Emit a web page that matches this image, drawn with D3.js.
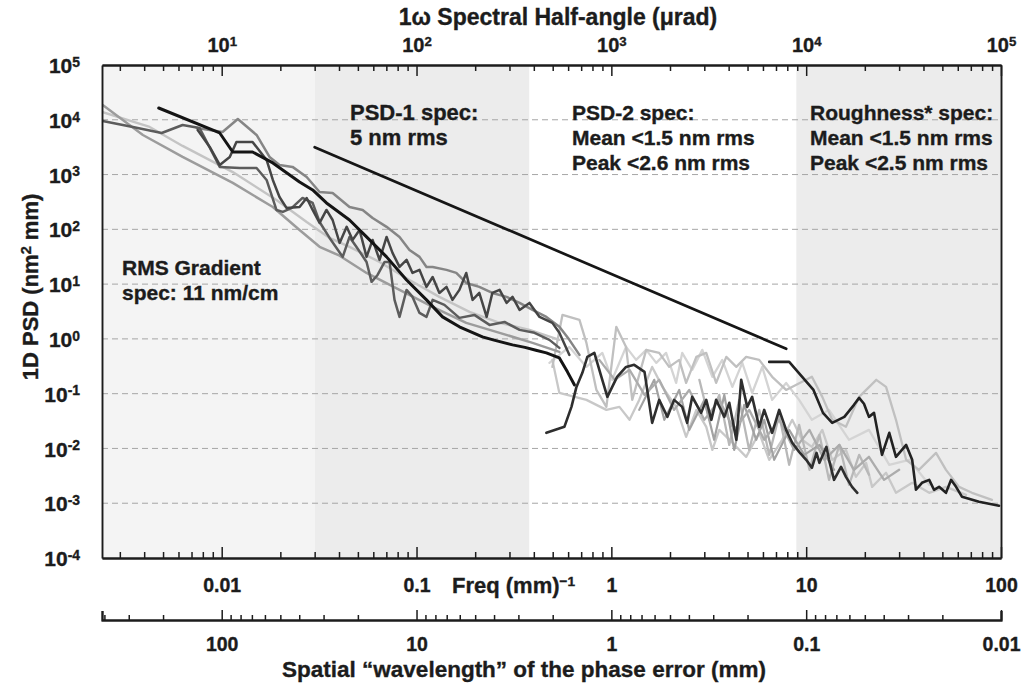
<!DOCTYPE html>
<html><head><meta charset="utf-8">
<script src="https://cdn.jsdelivr.net/npm/d3@7"></script>
<style>
body{margin:0;background:#fff;}
svg text{font-family:"Liberation Sans",Arial,Helvetica,sans-serif;font-weight:bold;fill:#1c1c1c;stroke:#1c1c1c;stroke-width:0.35px;}
</style></head><body>
<svg id="chart" width="1024" height="686"></svg>
<script>
// ---------- tick labels / axis values ----------
const freqTicks = [0.01, 0.1, 1, 10, 100];
const wavelengthTicks = [100, 10, 1, 0.1, 0.01];
const angleTicks = [1e1, 1e2, 1e3, 1e4, 1e5];
const psdTicks = [1e5, 1e4, 1e3, 1e2, 1e1, 1e0, 1e-1, 1e-2, 1e-3, 1e-4];
const gridTicks = [1e4, 1e3, 1e2, 1e1, 1e0, 1e-1, 1e-2, 1e-3];
const freqDomain = [0.00243, 100];
const psdDomain = [1e-4, 1e5];
// spec band edges (freq, mm^-1)
const bandEdges = [0.00243, 0.03, 0.38, 8.9, 100];
const bandFills = ["#f4f4f4", "#ececec", "#ffffff", "#ececec"];

// ---------- series [freq, PSD] ----------
const specPSD1 = [[0.030, 3160], [7.9, 0.66]];

const seriesBlack = [[0.00475,16400],[0.00977,5740],[0.0114,2580],[0.0144,2580],[0.0183,1630],[0.0231,904],
 [0.0251,733],[0.0293,524],[0.0345,303],[0.0453,148],[0.0554,72.7],[0.0702,31.4],[0.0889,11.9],[0.1125,5.15],
 [0.136,2.52],[0.166,1.66],[0.218,1.09],[0.25,0.95],[0.311,0.778],[0.36,0.70],[0.41,0.62],[0.464,0.555],
 [0.541,0.45],[0.595,0.25],[0.646,0.145]];

const seriesGrayBump = [[0.00745,7080],[0.0101,5990],[0.0121,10300],[0.0151,5280],[0.0176,2100],[0.0198,1500],
 [0.0231,1380],[0.0273,904],[0.0318,481],[0.0371,461],[0.0453,256],[0.0529,226],[0.0595,161],[0.0702,111],
 [0.0818,72.7],[0.092,42.1],[0.1036,31.4],[0.1125,20.6],[0.121,20.6],[0.1425,18.2],[0.160,16.0],[0.180,10.5],
 [0.21,8.89],[0.245,6.9],[0.29,5.84],[0.338,4.54],[0.394,3.38],[0.464,2.52],[0.541,1.66],[0.609,0.96],[0.686,0.51]];

const seriesDarkA = [[0.00753,6520],[0.00868,3190],[0.00977,1500],[0.011,2100],[0.0119,3940],[0.0144,3940],
 [0.017,1850],[0.0183,797],[0.0198,390],[0.0215,246],[0.0251,256],[0.0273,374],[0.0293,226],[0.0318,131],
 [0.0345,226],[0.0371,148],[0.0403,56.5],[0.0438,111],[0.047,64.1],[0.051,97.5],[0.0554,31.4],[0.0595,64.1],
 [0.0646,27.7],[0.0702,72.7],[0.0753,37.1],[0.0818,20.6],[0.0889,27.7],[0.0954,16.0],[0.1036,18.2],[0.1125,8.89],
 [0.121,13.5],[0.131,6.9],[0.1425,8.89],[0.153,5.15],[0.166,7.84],[0.180,16.0],[0.194,5.15],[0.21,6.9],
 [0.229,2.52],[0.245,6.9],[0.267,7.84],[0.29,4.54],[0.311,5.84],[0.338,3.38],[0.38,4.54],[0.428,2.52],
 [0.498,1.96],[0.541,1.29],[0.609,0.51]];

const seriesDarkB = [[0.00245,9510],[0.0035,7390],[0.00492,5740],[0.0063,8040],[0.0077,7080],[0.00977,1380],
 [0.0124,1320],[0.0151,1320],[0.017,797],[0.0191,226],[0.0206,208],[0.0229,246],[0.026,374],[0.0293,303],
 [0.0318,136],[0.0358,69.7],[0.0418,31.4],[0.0453,72.7],[0.0492,47.7],[0.0554,25.4],[0.0588,11.0],[0.0631,14.7],
 [0.0686,25.4],[0.0727,25.4],[0.0771,5.15],[0.0818,2.52],[0.0889,7.84],[0.0954,5.84],[0.1036,2.98],[0.1125,2.52],
 [0.121,5.15],[0.139,4.17],[0.166,2.42],[0.198,2.74],[0.237,1.8],[0.283,2.04],[0.338,1.46],[0.403,1.29],
 [0.481,0.96],[0.541,0.685]];

const seriesGradient = [[0.00245,18600],[0.00394,5280],[0.0063,2100],[0.0114,703],[0.0183,256],[0.0251,97.5],
 [0.0318,48],[0.0403,33],[0.0554,16.0],[0.0818,7.84],[0.121,3.84],[0.180,1.96],[0.267,1.29],[0.394,0.845],[0.541,0.58]];

const seriesLightLeft = [[0.00243,13900],[0.00427,7390],[0.0063,3330],[0.0114,1110],[0.0191,344],[0.0273,136],
 [0.0358,69.7],[0.0453,47.7],[0.0646,25.4],[0.092,11.9],[0.131,5.84],[0.187,3.11],[0.267,1.96],[0.38,1.46],[0.541,0.96]];

const seriesLightPeak = [[0.498,0.308],[0.561,2.74],[0.686,2.22],[0.745,0.845],[0.838,0.117],[0.943,0.0574],
 [1.06,1.66],[1.19,0.714],[1.28,0.077],[1.51,0.63],[1.76,0.555],[1.98,0.308],[2.23,0.414],[2.42,0.157],
 [2.73,0.47],[3.07,0.555],[3.45,0.157],[3.89,0.47],[4.38,0.308],[4.92,0.47],[5.74,0.414],[6.69,0.203],
 [7.89,0.117],[10.7,0.203],[12.1,0.0874],[13.6,0.0333],[16.0,0.0248],[18.7,0.0874],[22.9,0.179],[25.7,0.133],
 [28.9,0.0333],[32.6,0.0062],[37.9,0.00407],[46.4,0.0083],[52.2,0.00407],[60.9,0.00199],[71.0,0.00155],[89.9,0.00115]];

const seriesLightLow = [[0.498,0.414],[0.541,0.103],[0.745,0.077],[0.943,0.0506],[1.10,0.0574],[1.24,0.0333],
 [1.39,0.077],[1.62,0.308],[1.83,0.133],[2.15,0.0574],[2.42,0.0163],[2.73,0.0506],[3.07,0.0248],[3.30,0.0094],
 [3.58,0.0218],[4.18,0.0127],[4.92,0.00703],[5.74,0.0193],[6.46,0.0062],[7.53,0.0144],[8.48,0.0333],[9.53,0.0144],
 [10.7,0.0107],[12.1,0.0218],[13.6,0.0062],[16.0,0.0094],[18.0,0.00303],[20.3,0.00546],[21.8,0.00199],
 [25.7,0.00359],[28.9,0.00155],[35.0,0.00236],[42.8,0.00155],[52.2,0.00199],[66.2,0.00142]];

const seriesLightMid = [[0.481,0.365],[0.609,0.714],[0.745,0.308],[0.899,0.555],[1.01,0.179],[1.19,0.714],
 [1.34,0.414],[1.51,0.63],[1.70,0.365],[1.91,0.555],[2.15,0.157],[2.31,0.555],[2.60,0.272],[2.93,0.63],
 [3.30,0.203],[3.71,0.414],[4.18,0.133],[4.70,0.365],[5.28,0.103],[5.95,0.308],[6.69,0.077],[7.89,0.157],
 [9.2,0.077],[10.7,0.0333],[13.1,0.0506],[16.6,0.0144],[21.0,0.0218],[26.7,0.00502],[33.8,0.0062],[42.8,0.00217]];

const seriesMidRight = [[0.868,0.414],[1.04,0.179],[1.24,0.272],[1.48,0.095],[1.76,0.179],[2.10,0.0506],
 [2.51,0.117],[3.0,0.0333],[3.58,0.077],[4.27,0.0218],[5.1,0.0506],[6.09,0.0144],[7.27,0.0333],[8.68,0.0094],
 [10.4,0.0218],[12.4,0.0062],[14.8,0.0116],[17.6,0.00407],[21.0,0.00703],[25.1,0.00267],[30.0,0.00407]];

const seriesCloudA = [[2.83,0.179],[3.18,0.0333],[3.58,0.095],[4.03,0.0116],[4.53,0.077],[5.1,0.0094],
 [5.74,0.0506],[6.46,0.00764],[7.27,0.041],[8.18,0.00502],[9.2,0.027],[10.4,0.00407],[11.7,0.0177],
 [13.1,0.00267],[14.8,0.0116],[16.6,0.00217],[18.7,0.00764],[21.0,0.0033]];

const seriesCloudB = [[1.39,0.0506],[1.66,0.179],[1.87,0.0333],[2.23,0.117],[2.51,0.0218],[3.0,0.077],
 [3.37,0.0144],[3.80,0.095],[4.27,0.0094],[4.81,0.0625],[5.54,0.0144],[6.09,0.0333],[6.85,0.0062],
 [8.18,0.0218],[9.77,0.00764],[11.7,0.0116],[13.9,0.00407]];

const seriesDarkJag = [[0.464,0.0193],[0.574,0.0248],[0.624,0.0574],[0.662,0.133],[0.71,0.24],[0.753,0.47],
 [0.818,0.555],[0.889,0.203],[0.954,0.0874],[1.07,0.203],[1.19,0.308],[1.31,0.336],[1.48,0.25],[1.62,0.0293],
 [1.76,0.077],[1.94,0.0377],[2.10,0.077],[2.31,0.0574],[2.45,0.0293],[2.60,0.0874],[2.89,0.0446],[3.07,0.077],
 [3.26,0.0333],[3.45,0.077],[3.80,0.0377],[4.03,0.068],[4.38,0.0144],[4.64,0.179],[4.98,0.0574],[5.28,0.0874],
 [5.74,0.0248],[6.09,0.0506],[6.69,0.0193],[7.27,0.0506],[7.89,0.0218],[8.48,0.0127],[9.2,0.00867],[10.0,0.0062],
 [10.7,0.00443],[11.3,0.0083],[11.7,0.00546],[12.7,0.0107],[13.1,0.0062],[13.9,0.00267],[15.1,0.00461],
 [16.0,0.00303],[17.2,0.00199],[18.3,0.00155]];

const seriesDarkRight = [[6.46,0.38],[8.18,0.38],[10.9,0.117],[12.2,0.0446],[13.6,0.0293],[15.7,0.0377],
 [17.6,0.0625],[18.7,0.0838],[19.8,0.0654],[21.0,0.0377],[22.3,0.0446],[24.5,0.00764],[26.7,0.0193],[28.9,0.00703],
 [32.6,0.0116],[35.0,0.0062],[36.6,0.00176],[39.3,0.00236],[42.8,0.00267],[45.3,0.00176],[48.1,0.00199],
 [52.2,0.00155],[55.4,0.00267],[58.8,0.00199],[63.1,0.00131],[77.1,0.00106],[97.7,0.0009]];

// draw order (back to front) with stroke styles
const seriesList = [
  {data: seriesLightMid,   color: "#d4d4d4", w: 2.3},
  {data: seriesLightLow,   color: "#c8c8c8", w: 2.3},
  {data: seriesCloudA,     color: "#b8b8b8", w: 2.3},
  {data: seriesLightPeak,  color: "#c0c0c0", w: 2.3},
  {data: seriesCloudB,     color: "#a2a2a2", w: 2.2},
  {data: seriesMidRight,   color: "#acacac", w: 2.3},
  {data: seriesLightLeft,  color: "#c4c4c4", w: 2.4},
  {data: seriesGradient,   color: "#9c9c9c", w: 2.5},
  {data: seriesGrayBump,   color: "#858585", w: 2.5},
  {data: seriesDarkB,      color: "#5c5c5c", w: 2.5},
  {data: seriesDarkA,      color: "#454545", w: 2.5},
  {data: seriesBlack,      color: "#141414", w: 3},
  {data: seriesDarkJag,    color: "#2e2e2e", w: 2.6},
  {data: seriesDarkRight,  color: "#222222", w: 2.6},
  {data: specPSD1,         color: "#161616", w: 2.7}
];

// ---------- layout ----------
const L = 102, R = 1001, T = 65, B = 558, WAVE_Y = 620;
const svg = d3.select("#chart");
svg.append("rect").attr("width",1024).attr("height",686).attr("fill","#ffffff");

const x = d3.scaleLog().domain(freqDomain).range([L, R]);
const y = d3.scaleLog().domain(psdDomain).range([B, T]);
const xTop = d3.scaleLog().domain(freqDomain.map(f => f * 1000)).range([L, R]);
const xWave = d3.scaleLog().domain(freqDomain.map(f => 1 / f)).range([L, R]);

function minorTicks(scale) {
  const [a, b] = scale.domain().slice().sort((p, q) => p - q);
  const out = [];
  for (let e = Math.floor(Math.log10(a)); e <= Math.ceil(Math.log10(b)); e++) {
    for (let m = 2; m <= 9; m++) {
      const v = +(m * Math.pow(10, e)).toPrecision(3);
      if (v >= a && v <= b) out.push(v);
    }
  }
  return out;
}

// bands
svg.append("g").selectAll("rect").data(bandFills).join("rect")
  .attr("x", (d, i) => x(bandEdges[i]))
  .attr("width", (d, i) => x(bandEdges[i + 1]) - x(bandEdges[i]))
  .attr("y", T).attr("height", B - T).attr("fill", d => d);

// grid
svg.append("g").selectAll("line").data(gridTicks).join("line")
  .attr("x1", L).attr("x2", R).attr("y1", d => y(d)).attr("y2", d => y(d))
  .attr("stroke", "#a6a6a6").attr("stroke-width", 1).attr("stroke-dasharray", "6,4");

// series
const clip = svg.append("clipPath").attr("id", "plotclip");
clip.append("rect").attr("x", L).attr("y", T).attr("width", R - L).attr("height", B - T);
const line = d3.line().x(d => x(d[0])).y(d => y(d[1]));
svg.append("g").attr("clip-path", "url(#plotclip)").selectAll("path").data(seriesList).join("path")
  .attr("d", d => line(d.data)).attr("fill", "none")
  .attr("stroke", d => d.color).attr("stroke-width", d => d.w)
  .attr("stroke-linejoin", "round").attr("stroke-linecap", "round");

// ---------- axes ----------
function styleAxis(g, w) {
  g.selectAll(".domain").attr("stroke", "#1c1c1c").attr("stroke-width", w || 1.9);
  g.selectAll(".tick line").attr("stroke", "#1c1c1c").attr("stroke-width", 1.5);
  g.selectAll("text").attr("fill", "#1c1c1c");
}
function powLabel(sel) {
  sel.each(function(d) {
    const e = Math.round(Math.log10(d));
    const t = d3.select(this).text("10");
    t.append("tspan").attr("dy", "-0.45em").attr("font-size", "0.66em").text(e);
  });
}

// bottom freq axis
const gB1 = svg.append("g").attr("transform", `translate(0,${B})`)
  .call(d3.axisBottom(x).tickValues(minorTicks(x)).tickSize(-6).tickSizeOuter(0).tickFormat(""));
styleAxis(gB1);
const gB2 = svg.append("g").attr("transform", `translate(0,${B})`)
  .call(d3.axisBottom(x).tickValues(freqTicks).tickSize(-11).tickSizeOuter(0).tickPadding(20).tickFormat(d => String(d)));
styleAxis(gB2);
gB2.selectAll("text").attr("font-size", 19.5).attr("font-family", null);

// top angle axis
const gT1 = svg.append("g").attr("transform", `translate(0,${T})`)
  .call(d3.axisTop(xTop).tickValues(minorTicks(xTop)).tickSize(-6).tickSizeOuter(0).tickFormat(""));
styleAxis(gT1);
const gT2 = svg.append("g").attr("transform", `translate(0,${T})`)
  .call(d3.axisTop(xTop).tickValues(angleTicks).tickSize(-11).tickSizeOuter(0).tickPadding(13));
styleAxis(gT2);
gT2.selectAll("text").attr("font-size", 20).attr("font-family", null).call(powLabel);

// left / right psd axes
const gL = svg.append("g").attr("transform", `translate(${L},0)`)
  .call(d3.axisLeft(y).tickValues(psdTicks).tickSize(0).tickPadding(22));
styleAxis(gL);
gL.selectAll("text").attr("font-size", 21).attr("font-family", null).attr("dy", "0.36em").call(powLabel);
const gR = svg.append("g").attr("transform", `translate(${R},0)`)
  .call(d3.axisRight(y).tickValues([]).tickSizeOuter(0));
styleAxis(gR);

// wavelength axis
const gW1 = svg.append("g").attr("transform", `translate(0,${WAVE_Y})`)
  .call(d3.axisBottom(xWave).tickValues(minorTicks(xWave)).tickSize(-5).tickSizeOuter(-9).tickFormat(""));
styleAxis(gW1);
const gW2 = svg.append("g").attr("transform", `translate(0,${WAVE_Y})`)
  .call(d3.axisBottom(xWave).tickValues(wavelengthTicks).tickSize(-10).tickSizeOuter(-9).tickPadding(17).tickFormat(d => String(d)));
styleAxis(gW2);
gW2.selectAll("text").attr("font-size", 19.5).attr("font-family", null);

// ---------- titles and annotations ----------
function label(xp, yp, txt, size, anchor) {
  return svg.append("text").attr("x", xp).attr("y", yp).attr("font-size", size)
    .attr("text-anchor", anchor || "start").text(txt);
}
label(558, 25, "1\u03c9 Spectral Half-angle (\u03bcrad)", 23, "middle");

const yt = svg.append("text").attr("transform", "translate(38,287) rotate(-90)")
  .attr("text-anchor", "middle").attr("font-size", 22);
yt.append("tspan").text("1D PSD (nm");
yt.append("tspan").attr("dy", "-0.45em").attr("font-size", "0.66em").text("2");
yt.append("tspan").attr("dy", "0.3em").text(" mm)");

const fq = svg.append("text").attr("x", 452).attr("y", 593).attr("font-size", 22);
fq.append("tspan").text("Freq (mm)");
fq.append("tspan").attr("dy", "-0.5em").attr("font-size", "0.62em").text("\u22121");

label(524, 677, "Spatial \u201cwavelength\u201d of the phase error (mm)", 22.5, "middle");

const notes = [
  {x: 350, y: 120, lines: ["PSD-1 spec:", "5 nm rms"]},
  {x: 572, y: 120, lines: ["PSD-2 spec:", "Mean <1.5 nm rms", "Peak <2.6 nm rms"]},
  {x: 810, y: 120, lines: ["Roughness* spec:", "Mean <1.5 nm rms", "Peak <2.5 nm rms"]},
  {x: 122, y: 275, lines: ["RMS Gradient", "spec: 11 nm/cm"]}
];
notes.forEach(n => n.lines.forEach((s, i) => label(n.x, n.y + i * 25, s, n.x === 350 ? 22 : 21)));
</script>
</body></html>
